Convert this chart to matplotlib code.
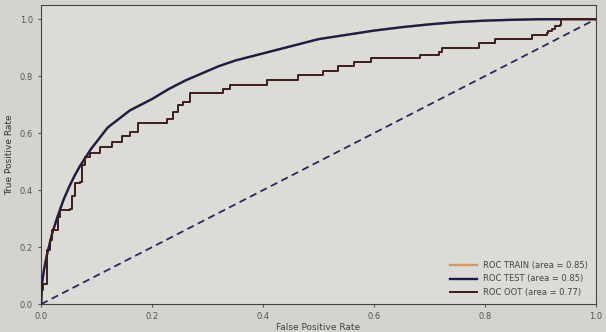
import matplotlib.pyplot as plt
import numpy as np

# ROC curves
fpr_test = [0.0, 0.001, 0.002, 0.005, 0.01, 0.02, 0.03, 0.04, 0.05, 0.06, 0.07, 0.08,
            0.09, 0.10, 0.12, 0.14, 0.16, 0.18, 0.20, 0.23, 0.26, 0.29, 0.32, 0.35,
            0.40, 0.45, 0.50, 0.55, 0.60, 0.65, 0.70, 0.75, 0.80, 0.85, 0.90, 1.0]
tpr_test = [0.0, 0.05, 0.08, 0.12, 0.17, 0.25, 0.31, 0.365, 0.41, 0.45, 0.485, 0.515,
            0.545, 0.57, 0.62, 0.65, 0.68, 0.70, 0.72, 0.755, 0.785, 0.81, 0.835, 0.855,
            0.88, 0.905, 0.93, 0.945, 0.96, 0.972, 0.982, 0.99, 0.995, 0.998, 1.0, 1.0]

# train curve sits right under the test curve in the picture
fpr_train = fpr_test
tpr_train = tpr_test

fpr_oot = [0.0, 0.0, 0.0036, 0.01, 0.016, 0.02, 0.03, 0.034, 0.052, 0.056, 0.061, 0.07,
           0.074, 0.079, 0.088, 0.106, 0.128, 0.146, 0.16, 0.175, 0.223, 0.227, 0.238,
           0.247, 0.256, 0.268, 0.328, 0.34, 0.407, 0.463, 0.508, 0.535, 0.564, 0.595,
           0.683, 0.717, 0.723, 0.79, 0.818, 0.886, 0.912, 0.914, 0.922, 0.926, 0.935,
           0.937, 1.0]
tpr_oot = [0.0, 0.05, 0.07, 0.19, 0.225, 0.26, 0.305, 0.33, 0.335, 0.38, 0.425, 0.43,
           0.49, 0.515, 0.53, 0.55, 0.57, 0.59, 0.605, 0.635, 0.635, 0.65, 0.675,
           0.70, 0.71, 0.74, 0.755, 0.77, 0.785, 0.805, 0.82, 0.835, 0.85, 0.865,
           0.875, 0.885, 0.90, 0.915, 0.93, 0.945, 0.95, 0.96, 0.965, 0.975, 0.98,
           1.0, 1.0]

labels = ['ROC TRAIN (area = 0.85)', 'ROC TEST (area = 0.85)', 'ROC OOT (area = 0.77)']

fig = plt.figure(figsize=(6.06, 3.32), dpi=100, facecolor='#d3d3cf')
ax = fig.add_axes([0.068, 0.084, 0.915, 0.901])
ax.set_facecolor('#dcdcd7')

ax.plot(fpr_train, tpr_train, color='#d9975e', lw=1.7, label=labels[0], zorder=2)
ax.plot(fpr_test, tpr_test, color='#1b1e4a', lw=1.7, label=labels[1], zorder=3)
ax.step(fpr_oot, tpr_oot, where='post', color='#3e1c1c', lw=1.4, label=labels[2], zorder=3)
ax.plot([0, 1], [0, 1], color='#262a5e', lw=1.3, ls='--', dashes=(4, 2.5))

ax.set_xlim(0, 1.0)
ax.set_ylim(0, 1.05)
ax.set_xticks(np.arange(0, 1.01, 0.2))
ax.set_yticks(np.arange(0, 1.01, 0.2))
ax.tick_params(labelsize=6, colors='#555555', length=2.5)
ax.set_xlabel('False Positive Rate', fontsize=6.5, color='#444444', labelpad=1)
ax.set_ylabel('True Positive Rate', fontsize=6.5, color='#333333', labelpad=4)
for s in ax.spines.values():
    s.set_color('#444444')

ax.legend(loc='lower right', fontsize=6, frameon=False, handlelength=3.2,
          labelspacing=0.5, labelcolor='#444444')

fig.savefig('out.png', dpi=100, facecolor=fig.get_facecolor())
